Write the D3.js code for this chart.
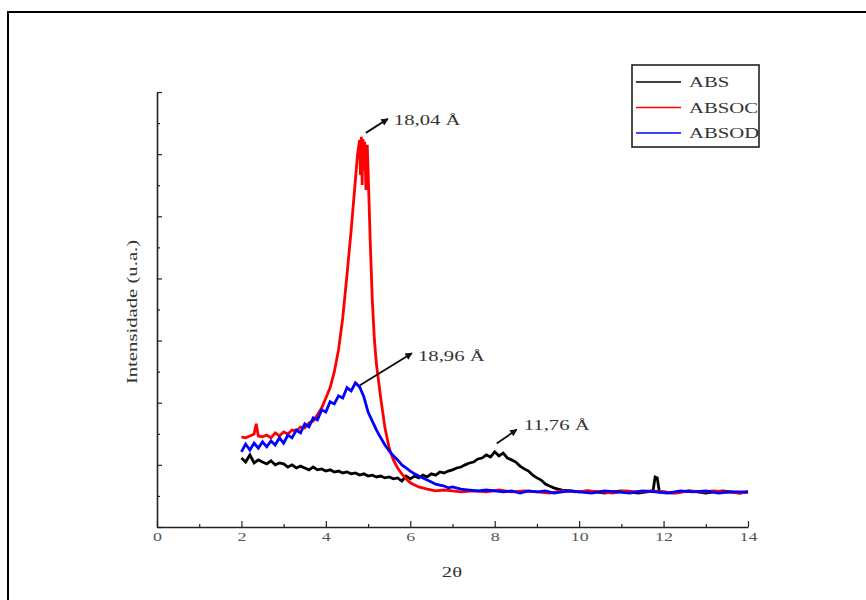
<!DOCTYPE html>
<html>
<head>
<meta charset="utf-8">
<script src="https://cdn.jsdelivr.net/npm/d3@7"></script>
<style>
  body { margin: 0; background: #fff; }
  text { font-family: "Liberation Serif", "Times New Roman", serif; }
</style>
</head>
<body>
<svg class="chart"></svg>
<script>
// 2-theta (degrees) and intensity (a.u.)
var absX = [2.0,2.1,2.2,2.3,2.4,2.5,2.6,2.7,2.8,2.9,3.0,3.1,3.2,3.3,3.4,3.5,3.6,3.7,3.8,3.9,
            4.0,4.1,4.2,4.3,4.4,4.5,4.6,4.7,4.8,4.9,5.0,5.1,5.2,5.3,5.4,5.5,5.6,5.7,5.8,5.9,
            6.0,6.1,6.2,6.3,6.4,6.5,6.6,6.7,6.8,6.9,7.0,7.1,7.2,7.3,7.4,7.5,7.6,7.7,7.8,7.9,
            8.0,8.1,8.2,8.3,8.4,8.5,8.6,8.7,8.8,8.9,9.0,9.1,9.2,9.3,9.4,9.5,9.6,9.8,
            10.0,10.2,10.4,10.6,10.8,11.0,11.2,11.4,11.6,11.75,11.8,11.85,11.9,
            12.0,12.2,12.4,12.6,12.8,13.0,13.2,13.4,13.6,13.8,14.0];
var absY = [222,209,232,206,216,209,203,213,200,206,203,193,200,190,196,190,184,193,184,187,
            180,184,177,180,174,177,171,174,167,171,164,167,161,164,158,161,155,158,148,164,
            155,164,158,167,161,171,167,177,174,180,184,190,193,200,206,209,219,222,232,225,
            242,229,238,222,216,209,196,187,180,167,158,151,138,132,126,122,119,116,
            113,116,113,109,113,116,113,109,113,116,161,158,113,
            113,109,113,116,113,109,113,116,113,109,113];

var absocX = [2.0,2.1,2.2,2.3,2.35,2.4,2.5,2.6,2.7,2.8,2.9,3.0,3.1,3.2,3.3,3.4,3.5,3.6,3.7,3.8,3.9,
              4.0,4.1,4.2,4.3,4.4,4.5,4.6,4.65,4.7,4.75,4.8,4.82,4.84,4.86,4.88,4.9,4.92,4.95,4.98,
              5.0,5.05,5.1,5.15,5.2,5.3,5.4,5.5,5.6,5.7,5.8,5.9,6.0,6.2,6.4,6.6,6.8,7.0,7.2,
              7.5,7.8,8.1,8.4,8.7,9.0,9.3,9.6,9.9,10.2,10.5,10.8,11.1,11.4,11.7,12.0,12.3,12.6,12.9,13.2,13.5,13.8,14.0];
var absocY = [290,287,293,299,332,293,290,296,287,303,293,306,299,312,309,322,319,335,341,361,383,
              415,448,499,570,673,811,956,1037,1117,1198,1246,1133,1256,1101,1249,1150,1240,1085,1230,
              1150,924,731,602,522,415,319,254,216,190,171,155,142,129,122,116,119,116,113,
              116,113,119,113,116,113,109,116,113,116,113,109,116,113,116,113,109,116,113,116,113,109,113];

var absodX = [2.0,2.1,2.2,2.3,2.4,2.5,2.6,2.7,2.8,2.9,3.0,3.1,3.2,3.3,3.4,3.5,3.6,3.7,3.8,3.9,
              4.0,4.1,4.2,4.3,4.4,4.5,4.6,4.7,4.8,4.9,5.0,5.1,5.2,5.3,5.4,5.5,5.6,5.7,5.8,5.9,
              6.0,6.1,6.2,6.3,6.4,6.5,6.6,6.7,6.8,6.9,7.0,7.2,7.4,7.6,7.8,8.0,8.2,8.4,8.6,8.8,
              9.0,9.2,9.4,9.6,9.8,10.0,10.3,10.6,10.9,11.2,11.5,11.8,12.1,12.4,12.7,13.0,13.3,13.6,14.0];
var absodY = [242,267,248,270,254,274,258,277,264,287,270,296,287,312,303,332,322,351,345,377,
              370,403,396,422,415,448,438,464,451,419,370,341,312,287,264,245,229,216,200,190,
              180,171,164,158,151,145,138,135,132,126,129,122,119,116,119,116,113,116,109,116,
              113,116,109,113,116,113,109,116,113,109,116,113,109,116,113,116,109,113,113];

var seriesNames = ["ABS", "ABSOC", "ABSOD"];
var seriesColors = ["#000000", "#ff0000", "#0000ff"];

var xTicks = [0, 2, 4, 6, 8, 10, 12, 14];
var xMinorTicks = [1, 3, 5, 7, 9, 11, 13];
var yTicks = [0, 200, 400, 600, 800, 1000, 1200, 1400];
var yMinorTicks = [100, 300, 500, 700, 900, 1100, 1300];

// peak labels: [2theta of peak, intensity of peak, label]
var peakLabels = [
    [4.9, 1262, "18,04 \u00c5"],
    [4.76, 450, "18,96 \u00c5"],
    [8.0, 262, "11,76 \u00c5"]
];

var width = 866;
var height = 600;
var stretchK = 1.38; // the original's type is widened horizontally

var svg = d3.select(".chart").attr("width", width).attr("height", height);

// outer frame (runs off the right and bottom of the picture)
svg.append("rect").
    attr("x", 8).attr("y", 12).
    attr("width", 900).attr("height", 700).
    attr("fill", "none").attr("stroke", "#000").attr("stroke-width", 2);

var x = d3.scaleLinear().domain([0, 14]).range([157, 748]);
var y = d3.scaleLinear().domain([0, 1400]).range([527, 92]);

function stretch(sel) {
    sel.each(function() {
        var w = this.getComputedTextLength();
        d3.select(this).attr("textLength", w * stretchK).attr("lengthAdjust", "spacingAndGlyphs");
    });
}

// x axis
var gx = svg.append("g").attr("transform", "translate(0," + y(0) + ")").
    call(d3.axisBottom(x).tickValues(xTicks).tickSize(-6).tickSizeOuter(0).tickPadding(5));
svg.append("g").attr("transform", "translate(0," + y(0) + ")").
    call(d3.axisBottom(x).tickValues(xMinorTicks).tickSize(-3).tickSizeOuter(0).tickFormat("")).
    select(".domain").remove();
gx.select(".domain").attr("stroke", "#222").attr("stroke-width", 1.6);
gx.selectAll("text").attr("font-size", 13).attr("fill", "#555").
    style("font-family", "Liberation Serif").call(stretch);

// y axis, no labels
var gy = svg.append("g").attr("transform", "translate(" + x(0) + ",0)").
    call(d3.axisLeft(y).tickValues(yTicks).tickSize(-5).tickSizeOuter(0).tickFormat(""));
svg.append("g").attr("transform", "translate(" + x(0) + ",0)").
    call(d3.axisLeft(y).tickValues(yMinorTicks).tickSize(-3).tickSizeOuter(0).tickFormat("")).
    select(".domain").remove();
gy.select(".domain").attr("stroke", "#222").attr("stroke-width", 1.6);
svg.selectAll(".tick line").attr("stroke", "#222").attr("stroke-width", 1.2);

// axis titles
svg.append("text").
    attr("x", 452).attr("y", 577).
    attr("text-anchor", "middle").attr("font-size", 15).attr("fill", "#333").
    text("2\u03b8").call(stretch);

svg.append("text").
    attr("transform", "translate(137,312) rotate(-90)").
    attr("text-anchor", "middle").attr("font-size", 15).attr("fill", "#333").
    text("Intensidade (u.a.)").call(stretch);

// curves: black first, blue on top
var line = d3.line().x(function(d) { return x(d[0]); }).y(function(d) { return y(d[1]); });
var seriesData = [d3.zip(absX, absY), d3.zip(absocX, absocY), d3.zip(absodX, absodY)];

svg.append("g").selectAll("path").data(seriesData).enter().append("path").
    attr("d", line).
    attr("fill", "none").
    attr("stroke", function(d, i) { return seriesColors[i]; }).
    attr("stroke-width", 2.8).
    attr("stroke-linejoin", "miter");

// arrows pointing from the peaks to their labels
svg.append("defs").append("marker").
    attr("id", "head").attr("viewBox", "0 0 10 10").
    attr("refX", 9).attr("refY", 5).
    attr("markerWidth", 5).attr("markerHeight", 4).
    attr("orient", "auto").
    append("path").attr("d", "M0,0L10,5L0,10Z").attr("fill", "#111");

var arrowOffsets = [[24, -16], [54, -34], [22, -16]];
var labelGap = [[6, 6], [6, 8], [7, 0]];

var ann = svg.append("g").selectAll("g").data(peakLabels).enter().append("g");
ann.append("line").
    attr("x1", function(d) { return x(d[0]) + 2; }).
    attr("y1", function(d) { return y(d[1]) - 2; }).
    attr("x2", function(d, i) { return x(d[0]) + arrowOffsets[i][0]; }).
    attr("y2", function(d, i) { return y(d[1]) + arrowOffsets[i][1]; }).
    attr("stroke", "#111").attr("stroke-width", 1.8).
    attr("marker-end", "url(#head)");
ann.append("text").
    attr("x", function(d, i) { return x(d[0]) + arrowOffsets[i][0] + labelGap[i][0]; }).
    attr("y", function(d, i) { return y(d[1]) + arrowOffsets[i][1] + labelGap[i][1]; }).
    attr("font-size", 15).attr("fill", "#333").
    text(function(d) { return d[2]; }).call(stretch);

// legend
var legend = svg.append("g").attr("transform", "translate(632,65)");
legend.append("rect").attr("width", 127).attr("height", 82).
    attr("fill", "#fff").attr("stroke", "#222").attr("stroke-width", 1.6);
var item = legend.selectAll("g.item").data(seriesNames).enter().append("g").
    attr("class", "item").
    attr("transform", function(d, i) { return "translate(0," + (17 + i * 25.5) + ")"; });
item.append("line").attr("x1", 4).attr("x2", 49).
    attr("stroke", function(d, i) { return seriesColors[i]; }).attr("stroke-width", 1.6);
item.append("text").attr("x", 57).attr("y", 5).
    attr("font-size", 15).attr("fill", "#333").
    text(function(d) { return d; }).call(stretch);
</script>
</body>
</html>
